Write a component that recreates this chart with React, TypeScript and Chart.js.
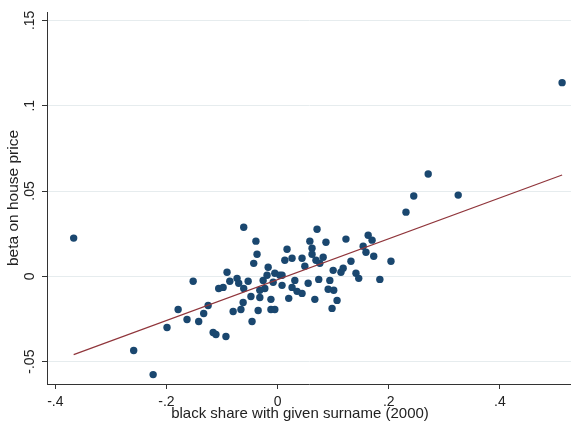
import { useEffect, useRef } from "react";
import { Chart, registerables } from "chart.js";

Chart.register(...registerables);

// Scatter points (black share, beta on house price)
const xValues = [
  -0.367, -0.259, -0.224, 0.512, 0.271, 0.245, 0.325, 0.231, -0.152, -0.199,
  -0.179, -0.163, -0.142, -0.133, -0.125, -0.116, -0.111, -0.093, -0.106, -0.098,
  -0.091, -0.086, -0.073, -0.07, -0.061, -0.053, -0.061, -0.039, -0.037, -0.043,
  -0.026, -0.017, -0.019, -0.005, 0.004, -0.023, -0.032, -0.048, -0.032, -0.012,
  -0.062, -0.066, -0.08, -0.035, -0.012, -0.005, -0.046, 0.017, 0.013, 0.026,
  0.044, 0.049, 0.058, 0.071, 0.062, 0.062, 0.069, 0.082, 0.076, 0.087,
  0.123, 0.163, 0.17, 0.154, 0.159, 0.173, 0.132, 0.204, 0.1, 0.114,
  0.118, 0.141, 0.146, 0.184, 0.008, 0.008, 0.031, 0.026, 0.035, 0.044,
  0.055, 0.074, 0.094, 0.091, 0.101, 0.107, 0.098, 0.067, 0.02, -0.008,
];
const yValues = [
  0.0224, -0.0435, -0.0576, 0.1135, 0.06, 0.0471, 0.0476, 0.0376, -0.0029, -0.03,
  -0.0194, -0.0253, -0.0265, -0.0218, -0.0171, -0.0329, -0.0341, -0.0353, -0.0071, -0.0065,
  0.0024, -0.0029, -0.0012, -0.0041, -0.0071, -0.0029, 0.0288, 0.0206, 0.0129, 0.0076,
  -0.0024, 0.0053, 0.0006, 0.0018, 0.0006, -0.0071, -0.0082, -0.0118, -0.0124, -0.0135,
  -0.0153, -0.0194, -0.0206, -0.02, -0.0194, -0.0194, -0.0265, 0.0159, 0.0094, 0.0106,
  0.0106, 0.0059, 0.0206, 0.0276, 0.0165, 0.0129, 0.0094, 0.0112, 0.0076, 0.02,
  0.0218, 0.0241, 0.0212, 0.0176, 0.0141, 0.0118, 0.0088, 0.0088, 0.0035, 0.0024,
  0.0047, 0.0018, -0.0012, -0.0018, 0.0006, -0.0053, -0.0024, -0.0065, -0.0088, -0.01,
  -0.0041, -0.0018, -0.0024, -0.0076, -0.0082, -0.0141, -0.0188, -0.0135, -0.0129, -0.0035,
];

// Linear fit line endpoints
const fitX = [-0.367, 0.512];
const fitY = [-0.0459, 0.0594];

// Axes
const xTickValues = [-0.4, -0.2, 0, 0.2, 0.4];
const xTickLabels = ["-.4", "-.2", "0", ".2", ".4"];
const yTickValues = [-0.05, 0, 0.05, 0.1, 0.15];
const yTickLabels = ["-.05", "0", ".05", ".1", ".15"];
const xTitle = "black share with given surname (2000)";
const yTitle = "beta on house price";

const FONT = "'Liberation Sans', Arial, Helvetica, sans-serif";

// Draws the x-axis title slightly left of the axis centre, as in the source figure
const xTitlePlugin = {
  id: "xTitlePlugin",
  afterDraw(chart: any) {
    const { ctx, chartArea } = chart;
    ctx.save();
    ctx.font = `15px ${FONT}`;
    ctx.fillStyle = "#222";
    ctx.textAlign = "center";
    ctx.textBaseline = "middle";
    ctx.fillText(xTitle, (chartArea.left + chartArea.right) / 2 - 9, chart.height - 17);
    ctx.restore();
  },
};

export default function App() {
  const ref = useRef<HTMLCanvasElement | null>(null);

  useEffect(() => {
    if (!ref.current) return;
    const points = xValues.map((x, i) => ({ x, y: yValues[i] }));
    const fit = fitX.map((x, i) => ({ x, y: fitY[i] }));
    const chart = new Chart(ref.current, {
      type: "scatter",
      data: {
        datasets: [
          {
            type: "line",
            data: fit,
            borderColor: "#90353b",
            borderWidth: 1.2,
            pointRadius: 0,
            fill: false,
          },
          {
            type: "scatter",
            data: points,
            backgroundColor: "#1a476f",
            borderColor: "#1a476f",
            borderWidth: 0,
            pointRadius: 3.7,
          },
        ],
      },
      plugins: [xTitlePlugin],
      options: {
        animation: false,
        responsive: false,
        devicePixelRatio: 1,
        layout: { autoPadding: false, padding: { top: 12, left: 0, right: 0, bottom: 0 } },
        plugins: { legend: { display: false }, tooltip: { enabled: false } },
        scales: {
          x: {
            type: "linear",
            min: -0.415,
            max: 0.528,
            afterBuildTicks: (s: any) => {
              s.ticks = xTickValues.map((v) => ({ value: v }));
            },
            afterFit: (s: any) => {
              s.height = 47;
            },
            ticks: {
              autoSkip: false,
              maxRotation: 0,
              minRotation: 0,
              padding: 5,
              color: "#222",
              font: { family: FONT, size: 14 },
              callback: (_v: any, i: number) => xTickLabels[i],
            },
            grid: {
              drawOnChartArea: false,
              drawTicks: true,
              tickLength: 5,
              tickColor: "#333",
            },
            border: { display: true, color: "#333", width: 1 },
            title: { display: false },
          },
          y: {
            type: "linear",
            min: -0.0631,
            max: 0.1549,
            afterBuildTicks: (s: any) => {
              s.ticks = yTickValues.map((v) => ({ value: v }));
            },
            afterFit: (s: any) => {
              s.width = 47;
            },
            ticks: {
              autoSkip: false,
              minRotation: 90,
              maxRotation: 90,
              crossAlign: "center",
              padding: 0,
              color: "#222",
              font: { family: FONT, size: 14 },
              callback: (_v: any, i: number) => yTickLabels[i],
            },
            grid: {
              drawOnChartArea: true,
              color: "#e6ecee",
              lineWidth: 1,
              drawTicks: true,
              tickLength: 5,
              tickColor: "#333",
            },
            border: { display: true, color: "#333", width: 1 },
            title: {
              display: true,
              text: yTitle,
              color: "#222",
              font: { family: FONT, size: 15.5 },
              padding: { top: 4, bottom: 0 },
            },
          },
        },
      },
    });
    return () => chart.destroy();
  }, []);

  return (
    <div style={{ position: "fixed", left: 0, top: 0, width: 571, height: 431, background: "#fff" }}>
      <canvas ref={ref} width={571} height={431} />
    </div>
  );
}
